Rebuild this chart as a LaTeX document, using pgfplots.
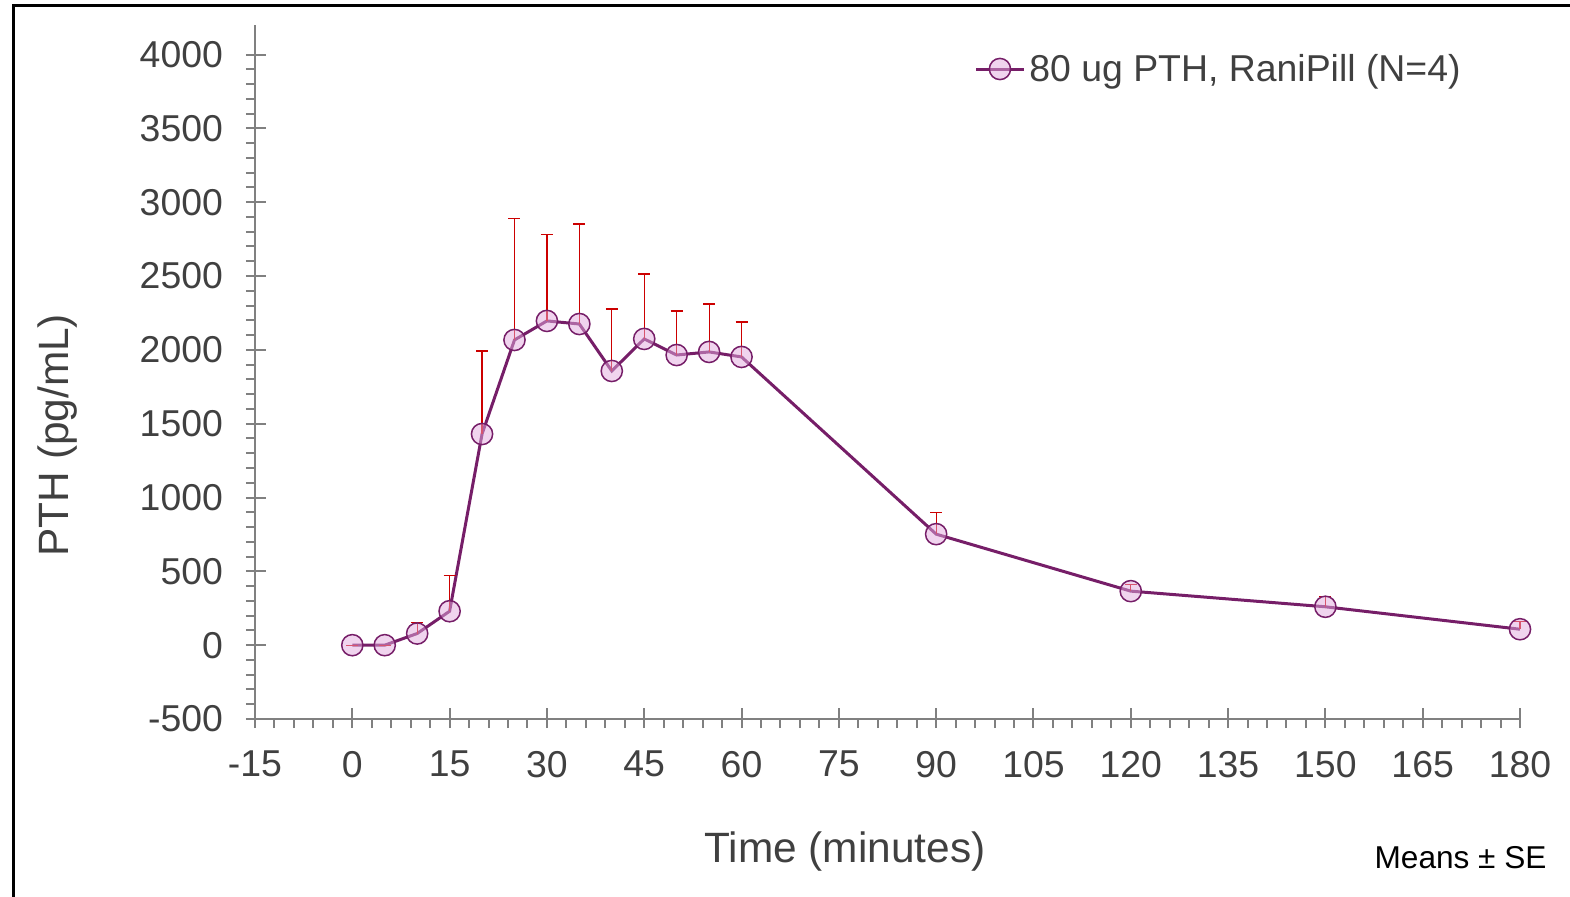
\documentclass[border=0pt]{standalone}
\usepackage{pgfplots}
\pgfplotsset{compat=1.18}
\usepackage{fontspec}
\setmainfont{Liberation Sans}
\definecolor{txt}{RGB}{64,64,64}
\definecolor{axgray}{RGB}{128,128,128}
\definecolor{pline}{RGB}{118,30,104}
\definecolor{pfill}{RGB}{226,170,221}
\definecolor{ered}{RGB}{204,0,0}
\begin{document}
\begin{tikzpicture}
\path[use as bounding box] (-127.5pt,-88.5pt) rectangle (657.5pt,359.5pt);
\draw[black, line width=1.5pt] (-120.5pt,-100pt) -- (-120.5pt,356.5pt) -- (670pt,356.5pt);
\begin{axis}[
  at={(0,0)}, anchor=south west,
  scale only axis, width=632.5pt, height=347pt,
  xmin=-15, xmax=180, ymin=-500, ymax=4200,
  axis x line*=bottom, axis y line*=left,
  axis line style={axgray, line width=1pt, -},
  xtick={-15,0,...,180}, ytick={-500,0,...,4000},
  minor x tick num=4, minor y tick num=4,
  major tick style={axgray, line width=1pt},
  minor tick style={axgray, line width=1pt},
  major tick length=4.5pt, minor tick length=4.5pt,
  tick align=outside,
  extra x ticks={-15,0,...,180}, extra y ticks={-500,0,...,4000},
  extra x tick labels={}, extra y tick labels={},
  extra tick style={tick align=inside, major tick length=5.5pt},
  /pgf/number format/assume math mode=true,
  /pgf/number format/1000 sep={},
  ticklabel style={font=\fontsize{18.7}{21}\selectfont, text=txt},
  xticklabel style={yshift=-8pt},
  yticklabel style={xshift=-8pt},
  xlabel={Time (minutes)}, ylabel={PTH (pg/mL)},
  label style={font=\fontsize{21.2}{24}\selectfont, text=txt},
  xlabel style={at={(axis description cs:0.4664,-0.1916)}, anchor=center},
  ylabel style={at={(axis description cs:-0.1557,0.409)}, anchor=center},
  legend style={draw=none, fill=none, at={(axis description cs:0.5685,0.9366)}, anchor=west,
    font=\fontsize{18.7}{21}\selectfont, text=txt, inner sep=0pt},
  legend cell align=left,
  legend image code/.code={\draw[mark repeat=2, mark phase=2, #1] plot coordinates {(0cm,0cm) (0.42cm,0cm) (0.84cm,0cm)};},
  clip=false,
]
\addplot+[pline, line width=1.5pt, mark=*, mark size=5.3pt,
  mark options={draw=pline, line width=0.75pt, fill=pfill, fill opacity=0.5},
  error bars/.cd, y dir=plus, y explicit,
  error bar style={ered, line width=0.6pt},
  error mark options={ered, rotate=90, mark size=3pt, line width=0.6pt}]
  table[x=t, y=m, y error=e] {
t m e
0 0 0
5 0 0
10 79 72
15 230 240
20 1430 562
25 2067 820
30 2196 583
35 2175 678
40 1857 420
45 2074 440
50 1965 298
55 1986 325
60 1952 237
90 752 147
120 366 43
150 260 67
180 108 55
};
\addlegendentry{80 ug PTH, RaniPill (N=4)}
\node[anchor=east, inner sep=0pt, font=\fontsize{15.8}{18}\selectfont, text=black] at (axis description cs:1.0213,-0.2003) {Means ± SE};
\end{axis}
\end{tikzpicture}
\end{document}
